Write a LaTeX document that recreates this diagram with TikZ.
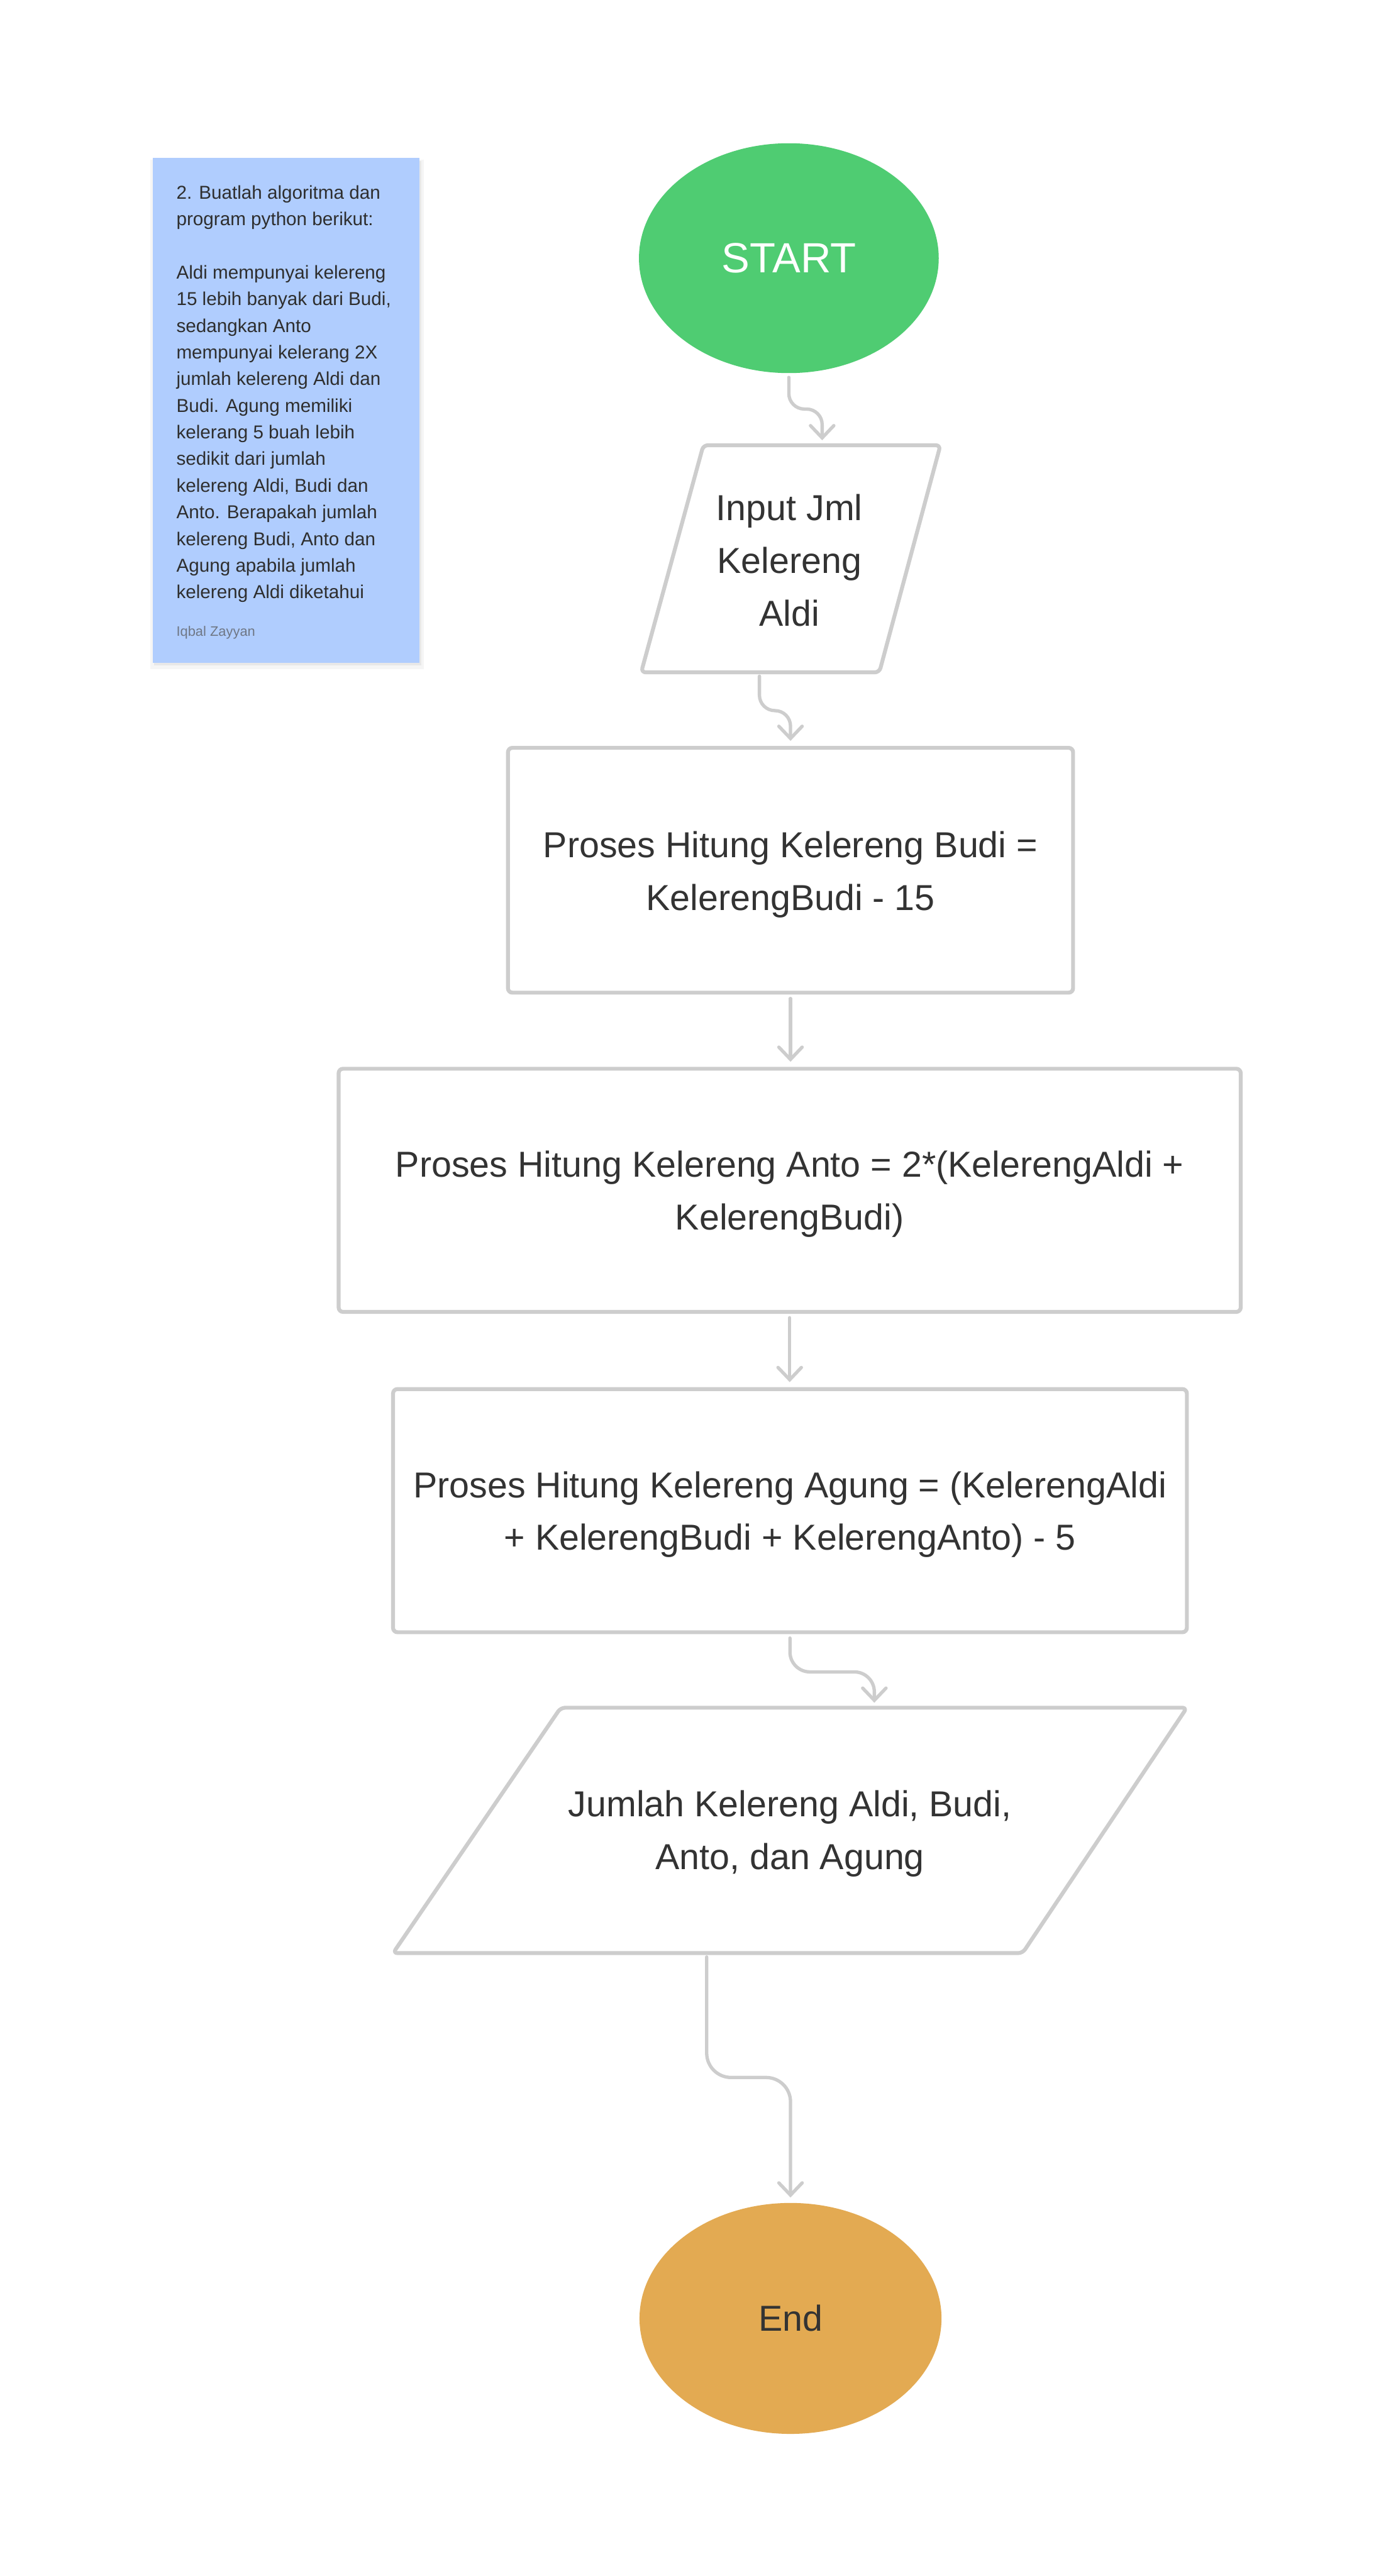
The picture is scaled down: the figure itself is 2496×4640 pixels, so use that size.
\documentclass[tikz,border=0pt]{standalone}
\usepackage{fontspec}
\setmainfont{Liberation Sans}
\usetikzlibrary{arrows.meta,shapes.geometric}
\definecolor{stickyblue}{HTML}{B0CDFE}
\definecolor{startgreen}{HTML}{4FCC72}
\definecolor{endorange}{HTML}{E3AA52}
\definecolor{linegray}{HTML}{CDCDCD}
\definecolor{txt}{HTML}{333333}
\definecolor{stickytxt}{HTML}{2E2E2E}
\definecolor{authorgray}{HTML}{6F7785}
\begin{document}
\begin{tikzpicture}[x=0.25pt,y=-0.25pt,
  every node/.style={text=txt, font=\fontsize{16.25pt}{23.75pt}\selectfont, align=center, inner sep=0pt},
  procbox/.style={draw=linegray, line width=1.75pt, rounded corners=2pt, fill=white},
  terminal/.style={ellipse, inner sep=0pt, minimum width=135pt, minimum height=103.5pt},
  iobox/.style={draw=linegray, line width=1.75pt, rounded corners=2pt, line join=round, fill=white},
  conn/.style={draw=linegray, line width=1.5pt, line cap=round, line join=round,
    -{Straight Barb[length=5.5pt,width=10.5pt,line cap=round]},
    rounded corners=7pt, shorten <=1.75pt, shorten >=2.25pt},
]
\useasboundingbox (0,0) rectangle (2496,4640);
\fill[white] (0,0) rectangle (2496,4640);

% sticky note
\fill[black, opacity=0.04] (271,288) rectangle (763,1205);
\fill[black, opacity=0.05] (277,290) rectangle (759,1199);
\node[fill=stickyblue, minimum width=120pt, minimum height=227.25pt, anchor=north west] (sticky) at (275,284) {};
\node[anchor=north west, align=left, text=stickytxt, font=\fontsize{8.4pt}{12pt}\selectfont] (stickytext) at (317,333)
 {2. Buatlah algoritma dan\\
  program python berikut:\\
  ~\\
  Aldi mempunyai kelereng\\
  15 lebih banyak dari Budi,\\
  sedangkan Anto\\
  mempunyai kelerang 2X\\
  jumlah kelereng Aldi dan\\
  Budi. Agung memiliki\\
  kelerang 5 buah lebih\\
  sedikit dari jumlah\\
  kelereng Aldi, Budi dan\\
  Anto. Berapakah jumlah\\
  kelereng Budi, Anto dan\\
  Agung apabila jumlah\\
  kelereng Aldi diketahui};
\node[anchor=base west, text=authorgray, font=\fontsize{6.2pt}{8pt}\selectfont] (author) at (317,1146) {Iqbal Zayyan};

% START
\node[terminal, fill=startgreen, text=white, font=\fontsize{19pt}{23pt}\selectfont] (start) at (1421,465) {START};

% input parallelogram
\draw[iobox] (1267,802) -- (1694,802) -- (1584,1211) -- (1155,1211) -- cycle;
\coordinate (inTop) at (1481,802);
\coordinate (inBot) at (1368,1211);
\node (in) at (1422,1009) {Input Jml\\Kelereng\\Aldi};

% process boxes
\node[procbox, minimum width=254.5pt, minimum height=110.25pt] (b1) at (1424,1567.5) {};
\node (b1t) at (1424,1575) {Proses Hitung Kelereng Budi =\\KelerengBudi - 15};
\node[procbox, minimum width=406.25pt, minimum height=109.5pt] (b2) at (1422.5,2144) {};
\node (b2t) at (1422.5,2151) {Proses Hitung Kelereng Anto = 2*(KelerengAldi +\\KelerengBudi)};
\node[procbox, minimum width=357.5pt, minimum height=109.5pt] (b3) at (1423,2721) {};
\node (b3t) at (1423,2728) {Proses Hitung Kelereng Agung = (KelerengAldi\\+ KelerengBudi + KelerengAnto) - 5};

% output parallelogram
\draw[iobox] (1010,3076) -- (2138,3076) -- (1842,3518) -- (708,3518) -- cycle;
\coordinate (outTop) at (1575,3076);
\coordinate (outBot) at (1273,3518);
\node (out) at (1423,3303) {Jumlah Kelereng Aldi, Budi,\\Anto, dan Agung};

% End
\node[terminal, fill=endorange, minimum width=136pt, minimum height=104pt] (end) at (1424,4176) {End};

% connectors
\draw[conn] (start.south) -- ++(0,64) -| (inTop);
\draw[conn] (inBot) -- ++(0,69) -| (b1.north);
\draw[conn] (b1.south) -- (b1.south |- b2.north);
\draw[conn] (b2.south) -- (b2.south |- b3.north);
\draw[conn, rounded corners=9pt] (b3.south) -- ++(0,68) -| (outTop);
\draw[conn, rounded corners=11pt] (outBot) -- ++(0,224) -| (end.north);
\end{tikzpicture}
\end{document}
